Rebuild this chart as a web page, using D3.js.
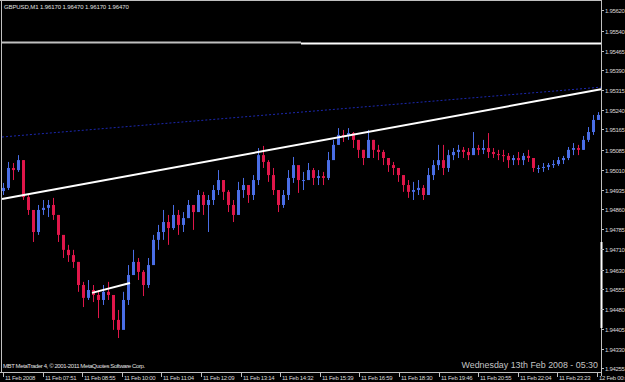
<!DOCTYPE html>
<html>
<head>
<meta charset="utf-8">
<script src="https://cdn.jsdelivr.net/npm/d3@7"></script>
<style>
  html, body { margin: 0; padding: 0; background: #000; }
  svg { display: block; }
  text { font-family: "Liberation Sans", Arial, sans-serif; }
</style>
</head>
<body>
<div id="chart"></div>
<script>
// GBPUSD M1 chart (bars grouped)
var symbolTitle = "GBPUSD,M1  1.96170 1.96470 1.96170 1.96470";
var copyright = "MBT MetaTrader 4, \u00a9 2001-2011 MetaQuotes Software Corp.";
var dateStamp = "Wednesday 13th Feb 2008 - 05:30";

var highs = [1.94961,1.95041,1.95037,1.95067,1.95048,1.94915,1.94847,1.94877,1.94896,1.94896,
  1.94904,1.94839,1.94751,1.94725,1.94706,1.94660,1.94584,1.94591,1.94572,1.94553,
  1.94572,1.94584,1.94515,1.94477,1.94546,1.94648,1.94706,1.94675,1.94629,1.94675,
  1.94763,1.94801,1.94858,1.94839,1.94877,1.94858,1.94850,1.94896,1.94877,1.94934,
  1.94927,1.94915,1.94953,1.95010,1.94972,1.94934,1.94896,1.94965,1.94980,1.94953,
  1.94991,1.95094,1.95102,1.95048,1.95018,1.94934,1.94934,1.95010,1.95060,1.95018,
  1.95003,1.95037,1.95018,1.95010,1.95003,1.95079,1.95125,1.95170,1.95163,1.95170,
  1.95155,1.95125,1.95087,1.95163,1.95125,1.95106,1.95087,1.95056,1.95041,1.95018,
  1.94991,1.94972,1.94965,1.94972,1.94953,1.95018,1.95048,1.95106,1.95106,1.95087,
  1.95094,1.95106,1.95098,1.95094,1.95155,1.95106,1.95125,1.95151,1.95094,1.95087,
  1.95087,1.95075,1.95067,1.95079,1.95075,1.95087,1.95041,1.95029,1.95037,1.95037,
  1.95048,1.95060,1.95064,1.95098,1.95113,1.95106,1.95140,1.95174,1.95220,1.95231];

var lows = [1.94915,1.94934,1.94972,1.95003,1.94896,1.94839,1.94736,1.94763,1.94839,1.94831,
  1.94820,1.94736,1.94675,1.94660,1.94637,1.94546,1.94488,1.94515,1.94507,1.94446,
  1.94496,1.94515,1.94401,1.94370,1.94420,1.94496,1.94610,1.94591,1.94530,1.94561,
  1.94660,1.94706,1.94744,1.94725,1.94782,1.94763,1.94774,1.94827,1.94782,1.94858,
  1.94839,1.94774,1.94877,1.94915,1.94896,1.94850,1.94812,1.94850,1.94904,1.94885,
  1.94896,1.94953,1.95018,1.94965,1.94915,1.94850,1.94866,1.94896,1.94961,1.94923,
  1.94934,1.94972,1.94953,1.94953,1.94953,1.94972,1.95056,1.95106,1.95117,1.95125,
  1.95094,1.95056,1.95029,1.95067,1.95056,1.95048,1.95029,1.95003,1.94991,1.94965,
  1.94927,1.94904,1.94896,1.94915,1.94896,1.94915,1.94972,1.95010,1.94991,1.95003,
  1.95048,1.95056,1.95056,1.95048,1.95079,1.95067,1.95071,1.95056,1.95056,1.95048,
  1.95041,1.95018,1.95029,1.95029,1.95029,1.95041,1.95003,1.94999,1.95003,1.95010,
  1.95018,1.95026,1.95033,1.95048,1.95067,1.95067,1.95087,1.95117,1.95144,1.95201];

var closes = [1.94942,1.95018,1.95010,1.95048,1.94907,1.94858,1.94774,1.94858,1.94866,1.94877,
  1.94839,1.94763,1.94706,1.94686,1.94660,1.94572,1.94523,1.94553,1.94534,1.94515,
  1.94546,1.94534,1.94439,1.94401,1.94515,1.94610,1.94660,1.94622,1.94572,1.94648,
  1.94744,1.94774,1.94812,1.94789,1.94839,1.94801,1.94827,1.94877,1.94850,1.94915,
  1.94877,1.94896,1.94934,1.94972,1.94927,1.94877,1.94839,1.94934,1.94953,1.94915,
  1.94972,1.95067,1.95041,1.94991,1.94934,1.94877,1.94915,1.94980,1.95029,1.94972,
  1.94972,1.95010,1.94980,1.94987,1.94980,1.95048,1.95106,1.95144,1.95140,1.95151,
  1.95125,1.95087,1.95056,1.95125,1.95087,1.95079,1.95056,1.95029,1.95018,1.94991,
  1.94953,1.94927,1.94934,1.94942,1.94915,1.94991,1.95029,1.95048,1.95018,1.95067,
  1.95079,1.95087,1.95079,1.95067,1.95094,1.95087,1.95094,1.95079,1.95071,1.95067,
  1.95064,1.95048,1.95056,1.95048,1.95064,1.95056,1.95018,1.95018,1.95022,1.95029,
  1.95033,1.95048,1.95056,1.95087,1.95094,1.95087,1.95125,1.95155,1.95201,1.95220];

var priceLabels = ["1.95620","1.95540","1.95465","1.95390","1.95315","1.95240","1.95165",
  "1.95085","1.95010","1.94935","1.94860","1.94785","1.94710","1.94630","1.94555",
  "1.94480","1.94405","1.94330","1.94255"];

var timeLabels = ["11 Feb 2008","11 Feb 07:51","11 Feb 08:55","11 Feb 10:00","11 Feb 11:04",
  "11 Feb 12:09","11 Feb 13:14","11 Feb 14:32","11 Feb 15:39","11 Feb 16:59","11 Feb 18:30",
  "11 Feb 19:46","11 Feb 20:55","11 Feb 22:04","11 Feb 23:23","12 Feb 00:42"];

// drawn objects: [bar, price] pairs
var trendLine = [[-0.2, 1.94900], [119.6, 1.95318]];
var channelLine = [[-0.2, 1.95136], [119.6, 1.95326]];
var shortLine = [[17.8, 1.94542], [25.4, 1.94580]];
var levelLine = 1.95496;

var width = 625, height = 382;
var plotRight = 601, plotBottom = 372;

var svg = d3.select("#chart").append("svg")
  .attr("width", width)
  .attr("height", height)
  .style("background", "#000");

var x = d3.scaleLinear().domain([0, closes.length - 1]).range([3, 598]);
var y = d3.scaleLinear().domain([1.94255, 1.95620]).range([368.2, 10]);

// candles (open = previous close)
var bars = closes.map(function(c, i) {
  var o = i == 0 ? 1.94930 : closes[i - 1];
  return {i: i, o: o, h: highs[i], l: lows[i], c: c};
});

var up = "#4a6ee6", down = "#e0164a";

svg.append("g").selectAll("line")
  .data(bars)
  .enter()
  .append("line")
    .attr("x1", function(d) { return Math.round(x(d.i)) + 0.5; })
    .attr("x2", function(d) { return Math.round(x(d.i)) + 0.5; })
    .attr("y1", function(d) { return y(d.h); })
    .attr("y2", function(d) { return y(d.l); })
    .attr("stroke", function(d) { return d.c >= d.o ? up : down; })
    .attr("stroke-width", 1);

svg.append("g").selectAll("rect")
  .data(bars)
  .enter()
  .append("rect")
    .attr("x", function(d) { return Math.round(x(d.i)) - 1; })
    .attr("width", 3)
    .attr("y", function(d) { return y(Math.max(d.o, d.c)); })
    .attr("height", function(d) { return Math.max(1, Math.abs(y(d.o) - y(d.c))); })
    .attr("fill", function(d) { return d.c >= d.o ? up : down; });

// drawn lines
var line = d3.line()
  .x(function(d) { return x(d[0]); })
  .y(function(d) { return y(d[1]); });

svg.append("path").attr("d", line(channelLine))
  .attr("fill", "none").attr("stroke", "#1c28b0")
  .attr("stroke-width", 1).attr("stroke-dasharray", "2,2");

svg.append("path").attr("d", line(trendLine))
  .attr("fill", "none").attr("stroke", "#ffffff").attr("stroke-width", 2);

svg.append("path").attr("d", line(shortLine))
  .attr("fill", "none").attr("stroke", "#ffffff").attr("stroke-width", 2);

svg.append("line")
  .attr("x1", 2).attr("x2", 301)
  .attr("y1", y(levelLine)).attr("y2", y(levelLine))
  .attr("stroke", "#c0c0c0").attr("stroke-width", 2);
svg.append("line")
  .attr("x1", 301).attr("x2", plotRight)
  .attr("y1", y(levelLine) + 1).attr("y2", y(levelLine) + 1)
  .attr("stroke", "#ffffff").attr("stroke-width", 2);

// frame
svg.append("line").attr("x1", 0).attr("x2", plotRight).attr("y1", 0.5).attr("y2", 0.5)
  .attr("stroke", "#c0c0c0");
svg.append("line").attr("x1", 1.5).attr("x2", 1.5).attr("y1", 0).attr("y2", plotBottom)
  .attr("stroke", "#c0c0c0");
svg.append("line").attr("x1", plotRight + 0.5).attr("x2", plotRight + 0.5).attr("y1", 0).attr("y2", plotBottom + 4)
  .attr("stroke", "#c0c0c0");
svg.append("line").attr("x1", 0).attr("x2", plotRight).attr("y1", plotBottom + 0.5).attr("y2", plotBottom + 0.5)
  .attr("stroke", "#c0c0c0");

// scroll marker on the price scale
svg.append("line").attr("x1", plotRight + 0.5).attr("x2", plotRight + 0.5)
  .attr("y1", 242).attr("y2", 328)
  .attr("stroke", "#ffffff").attr("stroke-width", 2);

// price scale
var py = svg.append("g");
priceLabels.forEach(function(t) {
  var yy = Math.round(y(+t)) + 0.5;
  py.append("line").attr("x1", plotRight).attr("x2", plotRight + 3)
    .attr("y1", yy).attr("y2", yy).attr("stroke", "#c0c0c0");
  py.append("text").attr("x", 605).attr("y", yy + 2.3)
    .attr("fill", "#d8d8d8").attr("font-size", "6px")
    .attr("letter-spacing", "-0.3px").text(t);
});

// time scale
var tx = d3.scalePoint().domain(timeLabels).range([3, 597]);
var tg = svg.append("g");
timeLabels.forEach(function(t) {
  var xx = Math.round(tx(t)) + 0.5;
  tg.append("line").attr("x1", xx).attr("x2", xx)
    .attr("y1", plotBottom).attr("y2", plotBottom + 5).attr("stroke", "#c0c0c0");
  tg.append("text").attr("x", xx + 1.5).attr("y", 380)
    .attr("fill", "#d8d8d8").attr("font-size", "6px")
    .attr("letter-spacing", "-0.3px").text(t);
});

// texts
svg.append("text").attr("x", 4).attr("y", 9)
  .attr("fill", "#e0e0e0").attr("font-size", "6px")
  .attr("letter-spacing", "-0.1px").text(symbolTitle);
svg.append("text").attr("x", 3).attr("y", 368)
  .attr("fill", "#e0e0e0").attr("font-size", "6px")
  .attr("letter-spacing", "-0.4px").text(copyright);
svg.append("text").attr("x", 598).attr("y", 368).attr("text-anchor", "end")
  .attr("fill", "#c4c4c4").attr("font-size", "8.9px").text(dateStamp);
</script>
</body>
</html>
